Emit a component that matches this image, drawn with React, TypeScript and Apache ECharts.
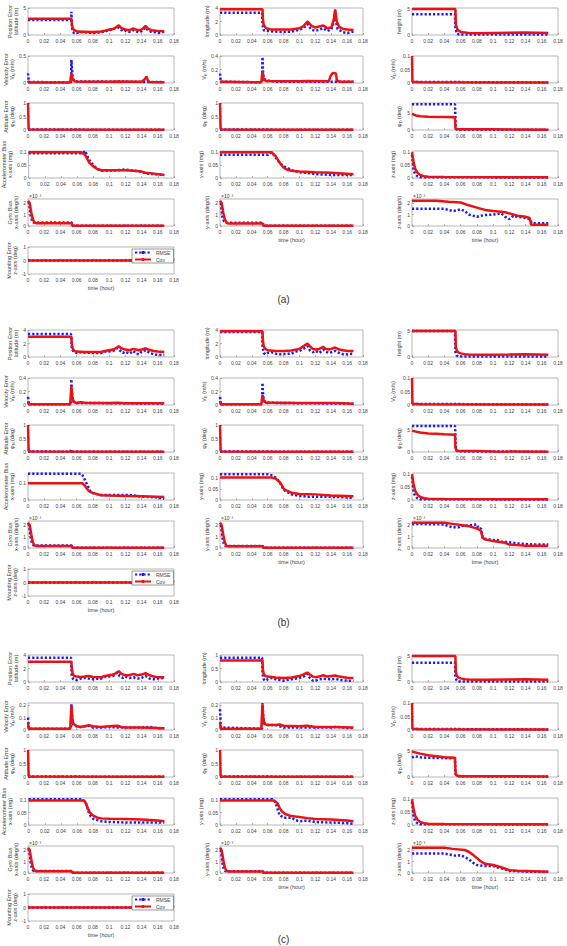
import { useEffect, useRef } from 'react';
import * as echarts from 'echarts';

type Pt = [number, number];

// ---- time axis (hours) ----
const X_MIN = 0;
const X_MAX = 0.18;
const X_STEP = 0.02;

// ---- panel (a) ----
const A_LAT_RMSE: Pt[] = [[0,2.8],[0.053,2.8],[0.0535,4.3],[0.054,2.0],[0.055,0.6],[0.057,0.35],[0.06,0.4],[0.065,0.55],[0.07,0.5],[0.075,0.4],[0.08,0.35],[0.085,0.45],[0.09,0.5],[0.095,0.7],[0.1,0.9],[0.105,1.1],[0.11,1.5],[0.113,1.2],[0.117,0.7],[0.12,0.8],[0.125,0.6],[0.13,0.9],[0.133,0.7],[0.137,0.5],[0.14,0.7],[0.145,1.4],[0.148,0.9],[0.152,0.6],[0.157,0.5],[0.162,0.4],[0.168,0.6]];
const A_LAT_COV: Pt[] = [[0,3.0],[0.0535,3.0],[0.054,2.0],[0.055,1.3],[0.057,0.9],[0.06,0.7],[0.065,0.6],[0.07,0.6],[0.08,0.55],[0.09,0.65],[0.095,0.8],[0.1,1.0],[0.105,1.1],[0.108,1.4],[0.112,1.8],[0.115,1.3],[0.12,1.0],[0.125,0.9],[0.13,1.2],[0.133,1.0],[0.137,0.9],[0.14,1.0],[0.145,1.7],[0.148,1.2],[0.152,0.9],[0.16,0.75],[0.168,0.7]];
const A_LON_RMSE: Pt[] = [[0,3.3],[0.053,3.3],[0.0535,1.5],[0.055,0.7],[0.06,0.6],[0.07,0.5],[0.08,0.45],[0.09,0.5],[0.1,0.8],[0.105,1.0],[0.11,1.6],[0.115,0.8],[0.12,0.6],[0.13,1.0],[0.135,0.6],[0.14,0.8],[0.145,2.5],[0.148,0.9],[0.155,0.4],[0.16,0.3],[0.168,0.5]];
const A_LON_COV: Pt[] = [[0,3.8],[0.0535,3.8],[0.054,2.4],[0.055,1.5],[0.058,1.0],[0.065,0.8],[0.09,0.8],[0.1,1.0],[0.105,1.3],[0.11,2.0],[0.115,1.4],[0.12,1.1],[0.13,1.4],[0.135,1.0],[0.14,1.1],[0.143,2.2],[0.145,3.8],[0.147,2.0],[0.15,1.2],[0.155,0.9],[0.16,0.8],[0.168,0.75]];
const A_HGT_RMSE: Pt[] = [[0,4.0],[0.053,4.0],[0.0535,1.5],[0.055,0.3],[0.058,0.1],[0.168,0.12]];
const A_HGT_COV: Pt[] = [[0,5.0],[0.0535,5.0],[0.054,2.0],[0.056,1.0],[0.06,0.6],[0.07,0.4],[0.08,0.35],[0.1,0.4],[0.12,0.45],[0.14,0.5],[0.168,0.4]];
const A_VN_RMSE: Pt[] = [[0,0.18],[0.001,0.02],[0.053,0.01],[0.0535,0.43],[0.054,0.3],[0.055,0.1],[0.057,0.04],[0.06,0.03],[0.1,0.025],[0.11,0.03],[0.14,0.02],[0.168,0.02]];
const A_VN_COV: Pt[] = [[0,0.04],[0.001,0.01],[0.052,0.01],[0.0535,0.18],[0.055,0.06],[0.058,0.03],[0.07,0.025],[0.1,0.025],[0.11,0.03],[0.14,0.025],[0.144,0.07],[0.146,0.12],[0.148,0.04],[0.15,0.02],[0.168,0.015]];
const A_VE_RMSE: Pt[] = [[0,0.14],[0.001,0.02],[0.053,0.01],[0.0535,0.385],[0.054,0.2],[0.055,0.07],[0.058,0.04],[0.07,0.02],[0.168,0.02]];
const A_VE_COV: Pt[] = [[0,0.02],[0.052,0.01],[0.0535,0.18],[0.055,0.05],[0.058,0.03],[0.1,0.025],[0.11,0.03],[0.137,0.025],[0.139,0.1],[0.142,0.15],[0.146,0.14],[0.147,0.04],[0.15,0.02],[0.168,0.02]];
const A_PD_RMSE: Pt[] = [[0,7.6],[0.053,7.6],[0.0535,3.5],[0.054,0.3],[0.056,0.1],[0.168,0.05]];
const A_PD_COV: Pt[] = [[0,4.8],[0.005,4.3],[0.01,4.1],[0.02,3.95],[0.04,3.85],[0.053,3.75],[0.0535,0.6],[0.055,0.3],[0.06,0.25],[0.1,0.2],[0.168,0.1]];
const A_AX_RMSE: Pt[] = [[0,0.096],[0.065,0.096],[0.068,0.1],[0.07,0.106],[0.072,0.09],[0.075,0.07],[0.08,0.05],[0.085,0.035],[0.09,0.028],[0.1,0.028],[0.12,0.033],[0.125,0.03],[0.14,0.025],[0.145,0.018],[0.155,0.015],[0.168,0.012]];
const A_AX_COV: Pt[] = [[0,0.1],[0.065,0.1],[0.07,0.09],[0.075,0.06],[0.08,0.045],[0.085,0.035],[0.09,0.03],[0.12,0.03],[0.13,0.028],[0.14,0.025],[0.145,0.02],[0.155,0.017],[0.168,0.012]];
const A_AY_RMSE: Pt[] = [[0,0.09],[0.06,0.09],[0.065,0.1],[0.07,0.08],[0.075,0.06],[0.08,0.045],[0.085,0.04],[0.09,0.03],[0.1,0.022],[0.11,0.02],[0.12,0.015],[0.14,0.012],[0.168,0.012]];
const A_AY_COV: Pt[] = [[0,0.1],[0.065,0.1],[0.07,0.085],[0.075,0.06],[0.08,0.04],[0.085,0.032],[0.09,0.028],[0.1,0.025],[0.12,0.022],[0.14,0.02],[0.168,0.015]];
const A_GX_RMSE: Pt[] = [[0.001,2.1],[0.002,1.6],[0.003,1.0],[0.005,0.45],[0.007,0.3],[0.009,0.3],[0.054,0.3],[0.0545,0.03],[0.168,0.02]];
const A_GX_COV: Pt[] = [[0,2.2],[0.002,2.0],[0.004,1.2],[0.006,0.6],[0.008,0.3],[0.01,0.25],[0.054,0.25],[0.0545,0.03],[0.168,0.02]];
const A_GY_RMSE: Pt[] = [[0.001,2.0],[0.002,1.4],[0.003,0.8],[0.005,0.4],[0.007,0.3],[0.009,0.28],[0.054,0.28],[0.0545,0.03],[0.168,0.02]];
const A_GY_COV: Pt[] = [[0,2.2],[0.002,2.0],[0.004,1.2],[0.006,0.6],[0.008,0.3],[0.01,0.22],[0.054,0.22],[0.0545,0.03],[0.168,0.02]];
const A_GZ_RMSE: Pt[] = [[0,1.5],[0.04,1.5],[0.045,1.4],[0.05,1.3],[0.055,1.35],[0.06,1.45],[0.065,1.3],[0.07,1.0],[0.075,0.9],[0.08,0.8],[0.085,0.9],[0.09,0.95],[0.1,1.0],[0.105,1.05],[0.11,1.1],[0.115,0.8],[0.12,0.6],[0.125,0.9],[0.13,0.8],[0.14,0.7],[0.145,0.6],[0.148,0.25],[0.168,0.25]];
const A_GZ_COV: Pt[] = [[0,2.2],[0.03,2.2],[0.045,2.12],[0.06,2.05],[0.07,1.8],[0.08,1.6],[0.09,1.4],[0.1,1.3],[0.11,1.25],[0.115,1.2],[0.12,1.1],[0.13,0.9],[0.14,0.8],[0.145,0.7],[0.147,0.1],[0.168,0.1]];

// ---- panel (b) ----
const B_LAT_RMSE: Pt[] = [[0,3.4],[0.053,3.4],[0.0535,2.5],[0.054,1.2],[0.056,0.8],[0.058,0.7],[0.06,0.6],[0.065,0.7],[0.07,0.65],[0.08,0.6],[0.09,0.6],[0.095,0.8],[0.1,0.8],[0.105,0.9],[0.11,1.3],[0.113,1.0],[0.117,0.6],[0.12,0.8],[0.125,0.5],[0.13,0.9],[0.133,0.5],[0.137,0.4],[0.14,0.8],[0.145,1.0],[0.15,0.6],[0.155,0.4],[0.16,0.3],[0.168,0.3]];
const B_LAT_COV: Pt[] = [[0,3.0],[0.0535,3.0],[0.054,2.0],[0.055,1.3],[0.057,0.9],[0.06,0.8],[0.07,0.75],[0.09,0.75],[0.095,0.9],[0.1,1.0],[0.105,1.1],[0.108,1.3],[0.112,1.6],[0.115,1.3],[0.12,1.1],[0.125,1.0],[0.13,1.2],[0.133,1.1],[0.137,1.0],[0.14,1.1],[0.145,1.3],[0.148,1.1],[0.155,0.9],[0.16,0.8],[0.168,0.75]];
const B_LON_RMSE: Pt[] = [[0,3.7],[0.053,3.7],[0.0535,1.5],[0.055,0.6],[0.057,0.4],[0.06,0.6],[0.065,0.7],[0.07,0.5],[0.075,0.4],[0.08,0.45],[0.09,0.5],[0.095,0.8],[0.1,0.9],[0.105,1.2],[0.11,1.6],[0.113,1.0],[0.117,0.7],[0.12,0.9],[0.125,0.6],[0.13,1.1],[0.133,0.8],[0.137,0.6],[0.14,0.7],[0.145,0.9],[0.15,0.6],[0.155,0.4],[0.16,0.4],[0.168,0.5]];
const B_LON_COV: Pt[] = [[0,3.8],[0.0535,3.8],[0.054,2.5],[0.055,1.6],[0.057,1.2],[0.06,1.0],[0.07,0.9],[0.08,0.9],[0.09,0.95],[0.1,1.2],[0.105,1.6],[0.11,2.0],[0.113,1.6],[0.117,1.2],[0.12,1.1],[0.125,1.2],[0.13,1.5],[0.133,1.2],[0.137,1.1],[0.14,1.2],[0.145,1.4],[0.15,1.1],[0.155,1.0],[0.16,0.9],[0.168,0.9]];
const B_HGT_RMSE: Pt[] = [[0,5.0],[0.053,5.0],[0.0535,1.0],[0.055,0.3],[0.057,0.1],[0.168,0.1]];
const B_HGT_COV: Pt[] = [[0,5.0],[0.0535,5.0],[0.054,2.0],[0.055,1.3],[0.057,0.9],[0.06,0.7],[0.065,0.55],[0.07,0.5],[0.09,0.45],[0.12,0.5],[0.14,0.55],[0.168,0.45]];
const B_VN_RMSE: Pt[] = [[0,0.12],[0.001,0.01],[0.053,0.01],[0.0535,0.38],[0.054,0.2],[0.055,0.07],[0.057,0.04],[0.06,0.03],[0.07,0.03],[0.168,0.02]];
const B_VN_COV: Pt[] = [[0,0.05],[0.001,0.01],[0.052,0.01],[0.0535,0.28],[0.0545,0.12],[0.056,0.05],[0.06,0.03],[0.065,0.04],[0.07,0.035],[0.08,0.03],[0.1,0.03],[0.11,0.035],[0.12,0.025],[0.168,0.025]];
const B_VE_RMSE: Pt[] = [[0,0.12],[0.001,0.01],[0.053,0.01],[0.0535,0.33],[0.054,0.2],[0.055,0.07],[0.058,0.04],[0.07,0.03],[0.168,0.02]];
const B_VE_COV: Pt[] = [[0,0.06],[0.001,0.01],[0.052,0.01],[0.0535,0.15],[0.055,0.06],[0.058,0.035],[0.07,0.035],[0.1,0.03],[0.145,0.03],[0.168,0.02]];
const B_PN_RMSE: Pt[] = [[0,0.02],[0.052,0.01],[0.053,0.08],[0.054,0.01],[0.168,0.005]];
const B_PD_RMSE: Pt[] = [[0,5.9],[0.053,5.9],[0.0535,4.0],[0.054,0.5],[0.056,0.15],[0.168,0.05]];
const B_PD_COV: Pt[] = [[0,4.8],[0.005,4.6],[0.01,4.4],[0.02,4.2],[0.03,4.1],[0.04,4.0],[0.053,3.9],[0.0535,1.0],[0.055,0.3],[0.06,0.2],[0.08,0.2],[0.09,0.15],[0.1,0.1],[0.168,0.05]];
const B_AX_RMSE: Pt[] = [[0,0.155],[0.066,0.155],[0.068,0.14],[0.07,0.12],[0.072,0.1],[0.074,0.08],[0.077,0.05],[0.08,0.04],[0.085,0.035],[0.09,0.03],[0.12,0.03],[0.13,0.028],[0.14,0.02],[0.15,0.018],[0.16,0.015],[0.165,0.01],[0.168,0.008]];
const B_AX_COV: Pt[] = [[0,0.1],[0.067,0.1],[0.07,0.085],[0.073,0.065],[0.076,0.05],[0.08,0.042],[0.085,0.035],[0.09,0.028],[0.1,0.026],[0.12,0.024],[0.14,0.022],[0.168,0.018]];
const B_AY_RMSE: Pt[] = [[0,0.115],[0.06,0.115],[0.065,0.11],[0.07,0.1],[0.075,0.08],[0.078,0.06],[0.08,0.045],[0.085,0.035],[0.09,0.025],[0.1,0.018],[0.11,0.015],[0.13,0.015],[0.15,0.013],[0.165,0.01],[0.168,0.008]];
const B_AY_COV: Pt[] = [[0,0.1],[0.065,0.1],[0.07,0.095],[0.075,0.08],[0.078,0.065],[0.08,0.05],[0.085,0.04],[0.09,0.032],[0.1,0.027],[0.12,0.025],[0.14,0.02],[0.168,0.017]];
const B_GX_RMSE: Pt[] = [[0.001,2.1],[0.002,1.6],[0.003,1.0],[0.005,0.4],[0.007,0.22],[0.054,0.22],[0.0545,0.03],[0.168,0.02]];
const B_GX_COV: Pt[] = [[0,2.2],[0.002,2.0],[0.004,1.2],[0.006,0.5],[0.008,0.25],[0.01,0.18],[0.054,0.18],[0.0545,0.03],[0.168,0.02]];
const B_GY_RMSE: Pt[] = [[0.001,2.0],[0.002,1.5],[0.003,0.9],[0.005,0.35],[0.007,0.18],[0.054,0.18],[0.0545,0.03],[0.168,0.02]];
const B_GY_COV: Pt[] = [[0,2.2],[0.002,2.0],[0.004,1.2],[0.006,0.5],[0.008,0.2],[0.01,0.15],[0.054,0.15],[0.0545,0.03],[0.168,0.02]];
const B_GZ_RMSE: Pt[] = [[0,2.1],[0.04,2.05],[0.045,1.9],[0.05,1.8],[0.058,1.8],[0.06,1.9],[0.065,1.95],[0.075,2.0],[0.08,2.05],[0.082,1.7],[0.085,1.7],[0.087,0.9],[0.09,0.8],[0.1,0.7],[0.105,0.7],[0.11,0.55],[0.12,0.5],[0.13,0.4],[0.14,0.35],[0.15,0.3],[0.168,0.3]];
const B_GZ_COV: Pt[] = [[0,2.2],[0.04,2.2],[0.05,2.1],[0.06,2.0],[0.07,1.9],[0.08,1.7],[0.085,1.5],[0.087,0.9],[0.09,0.75],[0.1,0.6],[0.11,0.5],[0.115,0.45],[0.12,0.3],[0.13,0.25],[0.14,0.2],[0.168,0.2]];

// ---- panel (c) ----
const C_LAT_RMSE: Pt[] = [[0,3.6],[0.053,3.6],[0.0535,2.0],[0.054,0.8],[0.056,0.4],[0.06,0.3],[0.065,0.5],[0.07,0.6],[0.075,0.5],[0.08,0.4],[0.085,0.5],[0.09,0.5],[0.095,0.8],[0.1,0.8],[0.105,0.9],[0.11,1.4],[0.113,0.9],[0.117,0.6],[0.12,0.8],[0.125,0.6],[0.13,0.7],[0.135,0.5],[0.14,0.6],[0.145,0.9],[0.15,0.5],[0.155,0.4],[0.16,0.5],[0.168,0.6]];
const C_LAT_COV: Pt[] = [[0,3.0],[0.0535,3.0],[0.054,2.0],[0.055,1.2],[0.057,0.9],[0.06,0.8],[0.065,0.75],[0.07,0.8],[0.075,0.9],[0.08,0.75],[0.09,0.7],[0.095,0.9],[0.1,1.0],[0.105,1.1],[0.108,1.3],[0.112,1.6],[0.115,1.2],[0.12,1.0],[0.125,1.0],[0.13,1.2],[0.135,1.0],[0.14,1.1],[0.145,1.3],[0.15,1.0],[0.155,0.8],[0.16,0.7],[0.168,0.7]];
const C_LON_RMSE: Pt[] = [[0,0.9],[0.053,0.9],[0.0535,0.3],[0.055,0.1],[0.057,0.05],[0.06,0.1],[0.065,0.15],[0.07,0.1],[0.08,0.05],[0.09,0.1],[0.1,0.15],[0.105,0.2],[0.11,0.3],[0.113,0.15],[0.117,0.05],[0.12,0.05],[0.125,0.1],[0.13,0.12],[0.14,0.1],[0.145,0.12],[0.15,0.08],[0.16,0.05],[0.168,0.05]];
const C_LON_COV: Pt[] = [[0,0.8],[0.0535,0.8],[0.054,0.45],[0.055,0.3],[0.057,0.22],[0.06,0.2],[0.07,0.17],[0.08,0.15],[0.09,0.17],[0.1,0.22],[0.105,0.28],[0.11,0.35],[0.113,0.28],[0.117,0.2],[0.12,0.18],[0.125,0.2],[0.13,0.25],[0.135,0.2],[0.14,0.22],[0.145,0.24],[0.15,0.2],[0.16,0.16],[0.168,0.15]];
const C_HGT_RMSE: Pt[] = [[0,3.7],[0.053,3.7],[0.0535,1.0],[0.055,0.3],[0.057,0.1],[0.168,0.1]];
const C_HGT_COV: Pt[] = [[0,5.0],[0.0535,5.0],[0.054,2.0],[0.055,1.3],[0.057,0.9],[0.06,0.7],[0.065,0.55],[0.07,0.5],[0.09,0.45],[0.12,0.5],[0.14,0.52],[0.168,0.45]];
const C_VN_RMSE: Pt[] = [[0,0.1],[0.001,0.01],[0.053,0.01],[0.0535,0.21],[0.054,0.15],[0.055,0.05],[0.057,0.04],[0.06,0.03],[0.065,0.025],[0.07,0.03],[0.075,0.035],[0.08,0.02],[0.09,0.02],[0.1,0.025],[0.11,0.02],[0.12,0.02],[0.14,0.02],[0.15,0.025],[0.16,0.015],[0.168,0.015]];
const C_VN_COV: Pt[] = [[0,0.06],[0.001,0.01],[0.052,0.01],[0.0535,0.2],[0.0545,0.1],[0.056,0.05],[0.06,0.03],[0.065,0.025],[0.07,0.03],[0.075,0.04],[0.08,0.03],[0.09,0.025],[0.1,0.03],[0.11,0.035],[0.115,0.025],[0.12,0.02],[0.14,0.02],[0.168,0.015]];
const C_VE_RMSE: Pt[] = [[0,0.17],[0.001,0.02],[0.053,0.01],[0.0535,0.22],[0.054,0.15],[0.055,0.06],[0.058,0.05],[0.06,0.04],[0.07,0.04],[0.08,0.02],[0.1,0.02],[0.12,0.02],[0.14,0.02],[0.145,0.025],[0.168,0.015]];
const C_VE_COV: Pt[] = [[0,0.06],[0.001,0.01],[0.052,0.01],[0.0535,0.21],[0.0545,0.1],[0.056,0.05],[0.06,0.04],[0.07,0.04],[0.075,0.045],[0.08,0.035],[0.1,0.03],[0.11,0.035],[0.12,0.025],[0.14,0.025],[0.168,0.02]];
const C_PD_RMSE: Pt[] = [[0,3.7],[0.003,4.0],[0.01,3.8],[0.02,3.7],[0.053,3.6],[0.0535,0.6],[0.055,0.15],[0.168,0.05]];
const C_PD_COV: Pt[] = [[0,4.9],[0.005,4.7],[0.01,4.5],[0.02,4.2],[0.03,4.0],[0.04,3.8],[0.053,3.7],[0.0535,1.5],[0.054,0.6],[0.055,0.3],[0.06,0.15],[0.168,0.1]];
const C_AX_RMSE: Pt[] = [[0,0.105],[0.066,0.105],[0.068,0.1],[0.07,0.095],[0.072,0.08],[0.074,0.055],[0.077,0.035],[0.08,0.025],[0.085,0.02],[0.09,0.015],[0.1,0.013],[0.12,0.01],[0.14,0.01],[0.168,0.01]];
const C_AX_COV: Pt[] = [[0,0.1],[0.068,0.1],[0.07,0.095],[0.073,0.07],[0.076,0.05],[0.08,0.038],[0.085,0.03],[0.09,0.027],[0.1,0.025],[0.12,0.024],[0.14,0.022],[0.16,0.018],[0.168,0.015]];
const C_AY_RMSE: Pt[] = [[0,0.105],[0.066,0.105],[0.068,0.1],[0.07,0.09],[0.073,0.06],[0.075,0.04],[0.08,0.03],[0.09,0.03],[0.095,0.02],[0.1,0.015],[0.11,0.018],[0.12,0.012],[0.14,0.01],[0.16,0.008],[0.168,0.005]];
const C_AY_COV: Pt[] = [[0,0.1],[0.068,0.1],[0.072,0.09],[0.075,0.07],[0.078,0.055],[0.082,0.045],[0.088,0.038],[0.095,0.035],[0.1,0.033],[0.11,0.028],[0.12,0.024],[0.14,0.022],[0.16,0.018],[0.168,0.015]];
const C_GX_RMSE: Pt[] = [[0.001,2.1],[0.002,1.6],[0.003,1.0],[0.005,0.35],[0.007,0.18],[0.054,0.18],[0.0545,0.03],[0.168,0.02]];
const C_GX_COV: Pt[] = [[0,2.2],[0.002,2.0],[0.004,1.2],[0.006,0.5],[0.008,0.22],[0.01,0.15],[0.054,0.15],[0.0545,0.03],[0.168,0.02]];
const C_GY_RMSE: Pt[] = [[0.001,2.0],[0.002,1.5],[0.003,0.9],[0.005,0.3],[0.007,0.15],[0.054,0.15],[0.0545,0.03],[0.168,0.02]];
const C_GY_COV: Pt[] = [[0,2.2],[0.002,2.0],[0.004,1.2],[0.006,0.5],[0.008,0.2],[0.01,0.14],[0.054,0.14],[0.0545,0.03],[0.168,0.02]];
const C_GZ_RMSE: Pt[] = [[0,1.7],[0.04,1.7],[0.05,1.55],[0.055,1.5],[0.06,1.55],[0.065,1.4],[0.07,1.2],[0.075,0.9],[0.08,0.7],[0.09,0.6],[0.1,0.6],[0.11,0.4],[0.12,0.2],[0.14,0.12],[0.168,0.1]];
const C_GZ_COV: Pt[] = [[0,2.2],[0.04,2.2],[0.05,2.1],[0.065,2.0],[0.07,1.85],[0.075,1.6],[0.085,1.0],[0.09,0.8],[0.1,0.7],[0.11,0.5],[0.12,0.25],[0.13,0.2],[0.15,0.15],[0.168,0.1]];

// ---- curves common to all three runs ----
const VD_RMSE: Pt[] = [[0,0.004],[0.168,0.002]];
const VD_COV: Pt[] = [[0,0.1],[0.0005,0.005],[0.01,0.003],[0.168,0.002]];
const PHI_NE_RMSE: Pt[] = [[0,0.02],[0.168,0.005]];
const PHI_NE_COV: Pt[] = [[0,1.0],[0.0008,0.05],[0.003,0.015],[0.168,0.01]];
const AZ_RMSE: Pt[] = [[0,0.09],[0.002,0.03],[0.004,0.015],[0.007,0.006],[0.01,0.003],[0.168,0.002]];
const AZ_COV: Pt[] = [[0,0.1],[0.002,0.06],[0.004,0.035],[0.007,0.02],[0.01,0.012],[0.015,0.007],[0.02,0.005],[0.04,0.004],[0.168,0.003]];
const MOUNT_RMSE: Pt[] = [[0,0],[0.168,0]];
const MOUNT_COV: Pt[] = [[0,0],[0.168,0]];

// ---- y-axis titles ----
const NAME = {
  lat: '{t|Position Error}\n{t|latitude (m)}',
  lon: '{t|longitude (m)}',
  hgt: '{t|height (m)}',
  vn: '{t|Velocity Error}\n{t|V}{s|N}{t| (m/s)}',
  ve: '{t|V}{s|E}{t| (m/s)}',
  vd: '{t|V}{s|D}{t| (m/s)}',
  pn: '{t|Attitude Error}\n{t|φ}{s|N}{t| (deg)}',
  pe: '{t|φ}{s|E}{t| (deg)}',
  pd: '{t|φ}{s|D}{t| (deg)}',
  ax: '{t|Accelerometer Bias}\n{t|x-axis (mg)}',
  ay: '{t|y-axis (mg)}',
  az: '{t|z-axis (mg)}',
  gx: '{t|Gyro Bias}\n{t|x-axis (deg/s)}',
  gy: '{t|y-axis (deg/s)}',
  gz: '{t|z-axis (deg/s)}',
  mz: '{t|Mounting Error}\n{t|z-axis (deg)}',
};

interface Plot {
  r: number; c: number; name: string;
  min?: number; max: number; step: number;
  rmse: Pt[]; cov: Pt[];
  time?: boolean; exp?: boolean; legend?: boolean;
}

const PANEL_A: Plot[] = [
  { r: 0, c: 0, name: NAME.lat, max: 5, step: 5, rmse: A_LAT_RMSE, cov: A_LAT_COV },
  { r: 0, c: 1, name: NAME.lon, max: 4, step: 2, rmse: A_LON_RMSE, cov: A_LON_COV },
  { r: 0, c: 2, name: NAME.hgt, max: 5.2, step: 5, rmse: A_HGT_RMSE, cov: A_HGT_COV },
  { r: 1, c: 0, name: NAME.vn, max: 0.5, step: 0.5, rmse: A_VN_RMSE, cov: A_VN_COV },
  { r: 1, c: 1, name: NAME.ve, max: 0.4, step: 0.2, rmse: A_VE_RMSE, cov: A_VE_COV },
  { r: 1, c: 2, name: NAME.vd, max: 0.1, step: 0.05, rmse: VD_RMSE, cov: VD_COV },
  { r: 2, c: 0, name: NAME.pn, max: 1, step: 0.5, rmse: PHI_NE_RMSE, cov: PHI_NE_COV },
  { r: 2, c: 1, name: NAME.pe, max: 1, step: 0.5, rmse: PHI_NE_RMSE, cov: PHI_NE_COV },
  { r: 2, c: 2, name: NAME.pd, max: 8, step: 5, rmse: A_PD_RMSE, cov: A_PD_COV },
  { r: 3, c: 0, name: NAME.ax, max: 0.105, step: 0.05, rmse: A_AX_RMSE, cov: A_AX_COV },
  { r: 3, c: 1, name: NAME.ay, max: 0.105, step: 0.05, rmse: A_AY_RMSE, cov: A_AY_COV },
  { r: 3, c: 2, name: NAME.az, max: 0.105, step: 0.05, rmse: AZ_RMSE, cov: AZ_COV },
  { r: 4, c: 0, name: NAME.gx, max: 2.35, step: 1, rmse: A_GX_RMSE, cov: A_GX_COV, exp: true },
  { r: 4, c: 1, name: NAME.gy, max: 2.35, step: 1, rmse: A_GY_RMSE, cov: A_GY_COV, exp: true, time: true },
  { r: 4, c: 2, name: NAME.gz, max: 2.35, step: 1, rmse: A_GZ_RMSE, cov: A_GZ_COV, exp: true, time: true },
  { r: 5, c: 0, name: NAME.mz, min: -1, max: 1, step: 1, rmse: MOUNT_RMSE, cov: MOUNT_COV, time: true, legend: true },
];

const PANEL_B: Plot[] = [
  { r: 0, c: 0, name: NAME.lat, max: 4, step: 2, rmse: B_LAT_RMSE, cov: B_LAT_COV },
  { r: 0, c: 1, name: NAME.lon, max: 4, step: 2, rmse: B_LON_RMSE, cov: B_LON_COV },
  { r: 0, c: 2, name: NAME.hgt, max: 5.2, step: 5, rmse: B_HGT_RMSE, cov: B_HGT_COV },
  { r: 1, c: 0, name: NAME.vn, max: 0.4, step: 0.2, rmse: B_VN_RMSE, cov: B_VN_COV },
  { r: 1, c: 1, name: NAME.ve, max: 0.4, step: 0.2, rmse: B_VE_RMSE, cov: B_VE_COV },
  { r: 1, c: 2, name: NAME.vd, max: 0.1, step: 0.05, rmse: VD_RMSE, cov: VD_COV },
  { r: 2, c: 0, name: NAME.pn, max: 1, step: 0.5, rmse: B_PN_RMSE, cov: PHI_NE_COV },
  { r: 2, c: 1, name: NAME.pe, max: 1, step: 0.5, rmse: PHI_NE_RMSE, cov: PHI_NE_COV },
  { r: 2, c: 2, name: NAME.pd, max: 6.1, step: 5, rmse: B_PD_RMSE, cov: B_PD_COV },
  { r: 3, c: 0, name: NAME.ax, max: 0.16, step: 0.1, rmse: B_AX_RMSE, cov: B_AX_COV },
  { r: 3, c: 1, name: NAME.ay, max: 0.12, step: 0.05, rmse: B_AY_RMSE, cov: B_AY_COV },
  { r: 3, c: 2, name: NAME.az, max: 0.105, step: 0.05, rmse: AZ_RMSE, cov: AZ_COV },
  { r: 4, c: 0, name: NAME.gx, max: 2.35, step: 1, rmse: B_GX_RMSE, cov: B_GX_COV, exp: true },
  { r: 4, c: 1, name: NAME.gy, max: 2.35, step: 1, rmse: B_GY_RMSE, cov: B_GY_COV, exp: true, time: true },
  { r: 4, c: 2, name: NAME.gz, max: 2.35, step: 1, rmse: B_GZ_RMSE, cov: B_GZ_COV, exp: true, time: true },
  { r: 5, c: 0, name: NAME.mz, min: -1, max: 1, step: 1, rmse: MOUNT_RMSE, cov: MOUNT_COV, time: true, legend: true },
];

const PANEL_C: Plot[] = [
  { r: 0, c: 0, name: NAME.lat, max: 4, step: 2, rmse: C_LAT_RMSE, cov: C_LAT_COV },
  { r: 0, c: 1, name: NAME.lon, max: 1, step: 0.5, rmse: C_LON_RMSE, cov: C_LON_COV },
  { r: 0, c: 2, name: NAME.hgt, max: 5.2, step: 5, rmse: C_HGT_RMSE, cov: C_HGT_COV },
  { r: 1, c: 0, name: NAME.vn, max: 0.22, step: 0.1, rmse: C_VN_RMSE, cov: C_VN_COV },
  { r: 1, c: 1, name: NAME.ve, max: 0.22, step: 0.1, rmse: C_VE_RMSE, cov: C_VE_COV },
  { r: 1, c: 2, name: NAME.vd, max: 0.1, step: 0.05, rmse: VD_RMSE, cov: VD_COV },
  { r: 2, c: 0, name: NAME.pn, max: 1, step: 0.5, rmse: PHI_NE_RMSE, cov: PHI_NE_COV },
  { r: 2, c: 1, name: NAME.pe, max: 1, step: 0.5, rmse: PHI_NE_RMSE, cov: PHI_NE_COV },
  { r: 2, c: 2, name: NAME.pd, max: 5.2, step: 5, rmse: C_PD_RMSE, cov: C_PD_COV },
  { r: 3, c: 0, name: NAME.ax, max: 0.11, step: 0.05, rmse: C_AX_RMSE, cov: C_AX_COV },
  { r: 3, c: 1, name: NAME.ay, max: 0.11, step: 0.05, rmse: C_AY_RMSE, cov: C_AY_COV },
  { r: 3, c: 2, name: NAME.az, max: 0.105, step: 0.05, rmse: AZ_RMSE, cov: AZ_COV },
  { r: 4, c: 0, name: NAME.gx, max: 2.35, step: 1, rmse: C_GX_RMSE, cov: C_GX_COV, exp: true },
  { r: 4, c: 1, name: NAME.gy, max: 2.35, step: 1, rmse: C_GY_RMSE, cov: C_GY_COV, exp: true, time: true },
  { r: 4, c: 2, name: NAME.gz, max: 2.35, step: 1, rmse: C_GZ_RMSE, cov: C_GZ_COV, exp: true, time: true },
  { r: 5, c: 0, name: NAME.mz, min: -1, max: 1, step: 1, rmse: MOUNT_RMSE, cov: MOUNT_COV, time: true, legend: true },
];

const PANELS = [PANEL_A, PANEL_B, PANEL_C];
const PANEL_TAGS = ['(a)', '(b)', '(c)'];

// ---- layout (px) ----
const W = 567;
const H = 946;
const COL_LEFT = [28, 220, 412];
const COL_WIDTH = [146, 143, 146];
const PANEL_TOP = [8, 330, 655];
const ROW_OFFSET = [0, 48, 95, 143, 191, 239];
const ROW_HEIGHT = 27;
const TAG_TOP = [294, 617, 934];

const FONT = '"Liberation Sans", Arial, sans-serif';
const BLUE = '#1a1aff';
const RED = '#ee1111';
const TXT = '#444';

function buildOption() {
  const grid: any[] = [];
  const xAxis: any[] = [];
  const yAxis: any[] = [];
  const series: any[] = [];
  const legend: any[] = [];
  const graphic: any[] = [];

  PANELS.forEach((plots, p) => {
    plots.forEach((pl) => {
      const i = grid.length;
      const left = COL_LEFT[pl.c];
      const top = PANEL_TOP[p] + ROW_OFFSET[pl.r];
      grid.push({
        left, top, width: COL_WIDTH[pl.c], height: ROW_HEIGHT,
        show: true, borderColor: '#9a9a9a', borderWidth: 0.7, backgroundColor: '#fff',
      });
      xAxis.push({
        type: 'value', gridIndex: i, min: X_MIN, max: X_MAX, interval: X_STEP,
        axisLine: { show: false },
        axisTick: { inside: true, length: 2, lineStyle: { color: '#888', width: 0.6 } },
        splitLine: { show: false },
        axisLabel: { fontSize: 5, color: TXT, margin: 3, fontFamily: FONT },
        name: pl.time ? 'time (hour)' : '',
        nameLocation: 'middle', nameGap: 11,
        nameTextStyle: { fontSize: 5.5, color: TXT, fontFamily: FONT },
      });
      const min = pl.min ?? 0;
      const ratio = (pl.max - min) / pl.step;
      const onGrid = Math.abs(ratio - Math.round(ratio)) < 1e-6;
      const twoLine = pl.name.includes('\n');
      yAxis.push({
        type: 'value', gridIndex: i, min, max: pl.max, interval: pl.step,
        axisLine: { show: false },
        axisTick: { inside: true, length: 2, lineStyle: { color: '#888', width: 0.6 } },
        splitLine: { show: false },
        axisLabel: { fontSize: 5, color: TXT, margin: 2, showMaxLabel: onGrid, fontFamily: FONT },
        name: pl.name, nameLocation: 'middle', nameRotate: 90,
        nameGap: twoLine ? 9 : 10,
        nameTextStyle: {
          fontFamily: FONT,
          lineHeight: 6,
          rich: {
            t: { fontSize: 5.5, color: TXT, fontFamily: FONT, lineHeight: 6 },
            s: { fontSize: 4, color: TXT, fontFamily: FONT, verticalAlign: 'bottom', lineHeight: 6, padding: [2, 0, 0, 0] },
          },
        },
      });
      series.push({
        type: 'line', name: 'RMSE', xAxisIndex: i, yAxisIndex: i, data: pl.rmse,
        symbol: 'none', showSymbol: false, silent: true, z: 2,
        lineStyle: { color: BLUE, width: 2.5, type: [2.2, 2] }, itemStyle: { color: BLUE },
      });
      series.push({
        type: 'line', name: 'Cov', xAxisIndex: i, yAxisIndex: i, data: pl.cov,
        symbol: 'none', showSymbol: false, silent: true, z: 3,
        lineStyle: { color: RED, width: 2.5 }, itemStyle: { color: RED },
      });
      if (pl.exp) {
        graphic.push({
          type: 'text', left: left + 1, top: top - 6,
          style: { text: '×10⁻³', fontSize: 5, fill: TXT, fontFamily: FONT },
        });
      }
      if (pl.legend) {
        legend.push({
          orient: 'vertical', left: left + COL_WIDTH[pl.c] - 42, top: top + 2,
          data: ['RMSE', 'Cov'], selectedMode: false,
          itemWidth: 16, itemHeight: 4, itemGap: 2, padding: [1, 3, 1, 2],
          borderColor: '#333', borderWidth: 0.5, backgroundColor: '#fff',
          textStyle: { fontSize: 5, color: TXT, fontFamily: FONT, padding: [0, 0, 0, 0] },
        });
      }
    });
    graphic.push({
      type: 'text', left: 'center', top: TAG_TOP[p],
      style: { text: PANEL_TAGS[p], fontSize: 10, fill: '#333', fontFamily: FONT },
    });
  });

  return {
    animation: false,
    backgroundColor: '#fff',
    textStyle: { fontFamily: FONT },
    grid, xAxis, yAxis, series, legend, graphic,
  };
}

export default function App() {
  const ref = useRef<HTMLDivElement>(null);
  useEffect(() => {
    if (!ref.current) return;
    const chart = echarts.init(ref.current, undefined, { renderer: 'svg', width: W, height: H });
    chart.setOption(buildOption());
    return () => chart.dispose();
  }, []);
  return (
    <div
      ref={ref}
      style={{ position: 'fixed', left: 0, top: 0, width: W, height: H, background: '#fff' }}
    />
  );
}
